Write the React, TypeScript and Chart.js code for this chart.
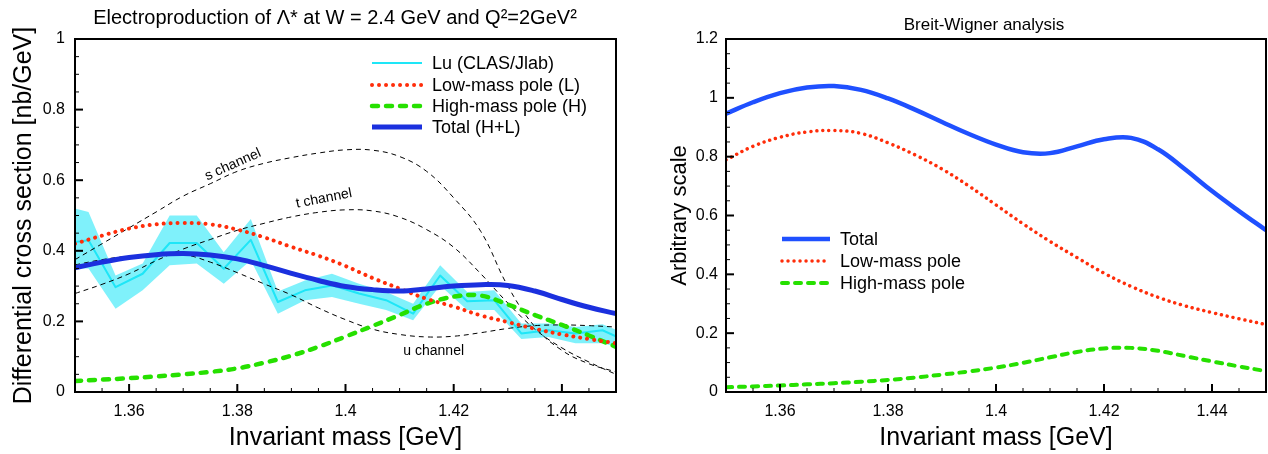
import React, { useEffect, useRef } from 'react';
import { Chart, registerables } from 'chart.js';

Chart.register(...registerables);
Chart.defaults.font.family = '"Liberation Sans", Arial, Helvetica, sans-serif';
Chart.defaults.color = '#000';

// ---------------- data ----------------
const massGrid = [1.35, 1.355, 1.36, 1.365, 1.37, 1.375, 1.38, 1.385, 1.39, 1.395, 1.4, 1.405, 1.41, 1.415, 1.42, 1.425, 1.43, 1.435, 1.44, 1.445, 1.45];

// left panel: electroproduction
const leftLowMass = [0.42, 0.443, 0.463, 0.475, 0.479, 0.475, 0.46, 0.438, 0.411, 0.386, 0.357, 0.323, 0.293, 0.264, 0.242, 0.217, 0.198, 0.179, 0.163, 0.15, 0.138];
const leftHighMass = [0.031, 0.035, 0.039, 0.044, 0.05, 0.057, 0.067, 0.083, 0.103, 0.128, 0.157, 0.187, 0.218, 0.25, 0.27, 0.273, 0.248, 0.218, 0.19, 0.16, 0.128];
const leftTotal = [0.352, 0.368, 0.381, 0.389, 0.392, 0.388, 0.377, 0.358, 0.336, 0.316, 0.299, 0.29, 0.286, 0.292, 0.3, 0.304, 0.302, 0.286, 0.262, 0.24, 0.222];
const sChannel = [0.375, 0.42, 0.465, 0.51, 0.555, 0.59, 0.625, 0.648, 0.664, 0.677, 0.686, 0.685, 0.667, 0.625, 0.55, 0.455, 0.3, 0.185, 0.118, 0.08, 0.057];
const tChannel = [0.279, 0.305, 0.335, 0.372, 0.405, 0.432, 0.458, 0.478, 0.496, 0.509, 0.516, 0.513, 0.495, 0.46, 0.41, 0.335, 0.252, 0.178, 0.125, 0.085, 0.05];
const uChannel = [0.36, 0.375, 0.385, 0.391, 0.39, 0.368, 0.338, 0.306, 0.275, 0.238, 0.205, 0.178, 0.163, 0.156, 0.158, 0.168, 0.18, 0.188, 0.19, 0.188, 0.184];

const luMass = [1.3475, 1.3525, 1.3575, 1.3625, 1.3675, 1.3725, 1.3775, 1.3825, 1.3875, 1.3925, 1.3975, 1.4025, 1.4075, 1.4125, 1.4175, 1.4225, 1.4275, 1.4325, 1.4375, 1.4425, 1.4475, 1.4525];
const luValue = [0.42, 0.43, 0.297, 0.335, 0.422, 0.422, 0.349, 0.431, 0.255, 0.288, 0.302, 0.279, 0.26, 0.222, 0.33, 0.257, 0.26, 0.166, 0.175, 0.166, 0.175, 0.14];
const luLower = [0.35, 0.35, 0.236, 0.288, 0.359, 0.364, 0.307, 0.373, 0.222, 0.26, 0.269, 0.25, 0.232, 0.203, 0.302, 0.232, 0.232, 0.15, 0.156, 0.138, 0.138, 0.12];
const luUpper = [0.53, 0.51, 0.33, 0.364, 0.5, 0.5, 0.396, 0.49, 0.285, 0.316, 0.335, 0.307, 0.283, 0.25, 0.359, 0.283, 0.288, 0.194, 0.194, 0.184, 0.192, 0.16];

// right panel: Breit-Wigner analysis
const rightTotal = [0.946, 0.985, 1.016, 1.035, 1.04, 1.027, 0.998, 0.96, 0.918, 0.877, 0.841, 0.815, 0.812, 0.835, 0.859, 0.864, 0.825, 0.757, 0.683, 0.615, 0.55];
const rightLowMass = [0.789, 0.835, 0.866, 0.884, 0.889, 0.879, 0.847, 0.806, 0.758, 0.7, 0.636, 0.572, 0.512, 0.457, 0.404, 0.359, 0.322, 0.293, 0.27, 0.249, 0.229];
const rightHighMass = [0.016, 0.019, 0.022, 0.026, 0.03, 0.035, 0.041, 0.049, 0.059, 0.07, 0.083, 0.099, 0.118, 0.136, 0.148, 0.15, 0.14, 0.122, 0.104, 0.087, 0.071];

// ticks
const xTickValues = [1.36, 1.38, 1.4, 1.42, 1.44];
const xTickLabels = ['1.36', '1.38', '1.4', '1.42', '1.44'];
const leftYTickValues = [0, 0.2, 0.4, 0.6, 0.8, 1];
const leftYTickLabels = ['0', '0.2', '0.4', '0.6', '0.8', '1'];
const rightYTickValues = [0, 0.2, 0.4, 0.6, 0.8, 1, 1.2];
const rightYTickLabels = ['0', '0.2', '0.4', '0.6', '0.8', '1', '1.2'];

// ---------------- styles ----------------
const CYAN = '#1ee6f7';
const BAND = 'rgba(0, 228, 248, 0.5)';
const RED = '#ff2d0a';
const GREEN = '#26e000';
const BLUE_L = '#1b30de';
const BLUE_R = '#1f50ff';
const FONT = '"Liberation Sans", Arial, sans-serif';

const pts = (xs: number[], ys: number[]) => xs.map((x, i) => ({ x, y: ys[i] }));

type LegendItem = { text: string; color: string; width: number; dash: number[]; cap: CanvasLineCap };

function findLabel(values: number[], labels: string[], v: number) {
  const i = values.findIndex((t) => Math.abs(t - v) < 1e-9);
  return i >= 0 ? labels[i] : '';
}

function makeDecor(opts: {
  yMinorStep: number;
  yMax: number;
  yMajor: number[];
  title: string;
  titleFont: string;
  titleX: number;
  titleY: number;
  legend: LegendItem[];
  legendLineX0: number;
  legendLineX1: number;
  legendTextX: number;
  legendRows: number[];
  legendFont: string;
  notes: { text: string; x: number; y: number; angle: number }[];
}) {
  return {
    id: 'decor',
    afterDatasetsDraw(chart: any) {
      const { ctx, chartArea: a, scales } = chart;
      const xs = scales.x;
      const ys = scales.y;
      ctx.save();
      ctx.strokeStyle = '#000';
      ctx.setLineDash([]);
      // x ticks (inward)
      const nx = Math.round((1.45 - 1.35) / 0.005);
      for (let i = 0; i <= nx; i++) {
        const v = 1.35 + i * 0.005;
        const major = xTickValues.some((t) => Math.abs(t - v) < 1e-6);
        const px = xs.getPixelForValue(v);
        ctx.lineWidth = major ? 2 : 1;
        ctx.beginPath();
        ctx.moveTo(px, a.bottom);
        ctx.lineTo(px, a.bottom - (major ? 8 : 4));
        ctx.stroke();
      }
      // y ticks (inward)
      const ny = Math.round(opts.yMax / opts.yMinorStep);
      for (let i = 0; i <= ny; i++) {
        const v = i * opts.yMinorStep;
        const major = opts.yMajor.some((t) => Math.abs(t - v) < 1e-6);
        const py = ys.getPixelForValue(v);
        ctx.lineWidth = major ? 2 : 1;
        ctx.beginPath();
        ctx.moveTo(a.left, py);
        ctx.lineTo(a.left + (major ? 8 : 4), py);
        ctx.stroke();
      }
      // frame
      ctx.lineWidth = 2;
      ctx.strokeRect(a.left, a.top, a.right - a.left, a.bottom - a.top);

      // channel notes
      ctx.fillStyle = '#000';
      ctx.font = '14px ' + FONT;
      ctx.textAlign = 'center';
      ctx.textBaseline = 'middle';
      for (const n of opts.notes) {
        ctx.save();
        ctx.translate(xs.getPixelForValue(n.x), ys.getPixelForValue(n.y));
        ctx.rotate((n.angle * Math.PI) / 180);
        ctx.fillText(n.text, 0, 0);
        ctx.restore();
      }

      // legend
      ctx.font = opts.legendFont;
      ctx.textAlign = 'left';
      opts.legend.forEach((item, i) => {
        const y = a.top + opts.legendRows[i];
        ctx.save();
        ctx.strokeStyle = item.color;
        ctx.lineWidth = item.width;
        ctx.lineCap = item.cap;
        ctx.setLineDash(item.dash);
        ctx.beginPath();
        ctx.moveTo(a.left + opts.legendLineX0, y);
        ctx.lineTo(a.left + opts.legendLineX1, y);
        ctx.stroke();
        ctx.restore();
        ctx.fillStyle = '#000';
        ctx.fillText(item.text, a.left + opts.legendTextX, y + 1);
      });

      // title
      ctx.font = opts.titleFont;
      ctx.textAlign = 'center';
      ctx.fillText(opts.title, opts.titleX, opts.titleY);
      ctx.restore();
    },
  };
}

function axisX() {
  return {
    type: 'linear',
    min: 1.35,
    max: 1.45,
    grid: { display: false, drawTicks: false },
    border: { display: false },
    afterBuildTicks: (s: any) => {
      s.ticks = xTickValues.map((v) => ({ value: v }));
    },
    ticks: {
      padding: 10,
      autoSkip: false,
      maxRotation: 0,
      font: { size: 16 },
      color: '#000',
      callback: (v: number) => findLabel(xTickValues, xTickLabels, v),
    },
    title: {
      display: true,
      text: 'Invariant mass [GeV]',
      font: { size: 25 },
      color: '#000',
      padding: { top: 0, bottom: 1 },
    },
    afterFit: (s: any) => {
      s.height = 62;
    },
  };
}

function lineDs(label: string, xs: number[], ys: number[], color: string, width: number, dash: number[], cap: CanvasLineCap, order: number, smooth = true) {
  return {
    label,
    data: pts(xs, ys),
    borderColor: color,
    backgroundColor: color,
    borderWidth: width,
    borderDash: dash,
    borderCapStyle: cap,
    borderJoinStyle: 'round',
    pointRadius: 0,
    fill: false,
    cubicInterpolationMode: 'default',
    tension: smooth ? 0.4 : 0,
    order,
  };
}

function LeftChart() {
  const ref = useRef<HTMLCanvasElement>(null);
  useEffect(() => {
    const legend: LegendItem[] = [
      { text: 'Lu (CLAS/Jlab)', color: CYAN, width: 2, dash: [], cap: 'butt' },
      { text: 'Low-mass pole (L)', color: RED, width: 4, dash: [0.01, 7], cap: 'round' },
      { text: 'High-mass pole (H)', color: GREEN, width: 4.5, dash: [6, 8], cap: 'round' },
      { text: 'Total (H+L)', color: BLUE_L, width: 5, dash: [], cap: 'butt' },
    ];
    const chart = new Chart(ref.current as HTMLCanvasElement, {
      type: 'line',
      data: {
        datasets: [
          {
            label: 'Lu band upper',
            data: pts(luMass, luUpper),
            borderColor: 'transparent',
            borderWidth: 0,
            backgroundColor: BAND,
            pointRadius: 0,
            fill: '+1',
            tension: 0,
            order: 20,
          },
          {
            label: 'Lu band lower',
            data: pts(luMass, luLower),
            borderColor: 'transparent',
            borderWidth: 0,
            pointRadius: 0,
            fill: false,
            tension: 0,
            order: 21,
          },
          lineDs('Lu (CLAS/Jlab)', luMass, luValue, CYAN, 2, [], 'butt', 15, false),
          lineDs('s channel', massGrid, sChannel, '#000', 1, [5, 4], 'butt', 12),
          lineDs('t channel', massGrid, tChannel, '#000', 1, [5, 4], 'butt', 11),
          lineDs('u channel', massGrid, uChannel, '#000', 1, [5, 4], 'butt', 10),
          lineDs('High-mass pole (H)', massGrid, leftHighMass, GREEN, 4.5, [6, 8], 'round', 3),
          lineDs('Low-mass pole (L)', massGrid, leftLowMass, RED, 4, [0.01, 7], 'round', 2),
          lineDs('Total (H+L)', massGrid, leftTotal, BLUE_L, 5, [], 'butt', 1),
        ] as any,
      },
      options: {
        responsive: false,
        animation: false,
        events: [],
        layout: { padding: { left: 0, right: 18, top: 39, bottom: 0 } },
        plugins: { legend: { display: false }, tooltip: { enabled: false } },
        scales: {
          x: axisX() as any,
          y: {
            type: 'linear',
            min: 0,
            max: 1,
            grid: { display: false, drawTicks: false },
            border: { display: false },
            afterBuildTicks: (s: any) => {
              s.ticks = leftYTickValues.map((v) => ({ value: v }));
            },
            ticks: {
              padding: 10,
              font: { size: 16 },
              color: '#000',
              callback: (v: number) => findLabel(leftYTickValues, leftYTickLabels, v),
            },
            title: {
              display: true,
              text: 'Differential cross section [nb/GeV]',
              font: { size: 25 },
              color: '#000',
              padding: { top: 9, bottom: 0 },
            },
            afterFit: (s: any) => {
              s.width = 75;
            },
          } as any,
        },
      },
      plugins: [
        makeDecor({
          yMinorStep: 0.05,
          yMax: 1,
          yMajor: leftYTickValues,
          title: 'Electroproduction of Λ* at W = 2.4 GeV and Q²=2GeV²',
          titleFont: '20px ' + FONT,
          titleX: 335,
          titleY: 18,
          legend,
          legendLineX0: 297,
          legendLineX1: 347,
          legendTextX: 357,
          legendRows: [24, 46, 67, 88],
          legendFont: '18px ' + FONT,
          notes: [
            { text: 's channel', x: 1.3792, y: 0.644, angle: -24 },
            { text: 't channel', x: 1.396, y: 0.548, angle: -11 },
            { text: 'u channel', x: 1.4163, y: 0.116, angle: 0 },
          ],
        }),
      ],
    } as any);
    return () => chart.destroy();
  }, []);
  return <canvas ref={ref} width={634} height={454} style={{ position: 'absolute', left: 0, top: 0 }} />;
}

function RightChart() {
  const ref = useRef<HTMLCanvasElement>(null);
  useEffect(() => {
    const legend: LegendItem[] = [
      { text: 'Total', color: BLUE_R, width: 4.5, dash: [], cap: 'butt' },
      { text: 'Low-mass pole', color: RED, width: 3.5, dash: [0.01, 6], cap: 'round' },
      { text: 'High-mass pole', color: GREEN, width: 4, dash: [6, 7], cap: 'round' },
    ];
    const chart = new Chart(ref.current as HTMLCanvasElement, {
      type: 'line',
      data: {
        datasets: [
          lineDs('High-mass pole', massGrid, rightHighMass, GREEN, 4, [6, 7], 'round', 3),
          lineDs('Low-mass pole', massGrid, rightLowMass, RED, 3.5, [0.01, 6], 'round', 2),
          lineDs('Total', massGrid, rightTotal, BLUE_R, 4.5, [], 'butt', 1),
        ] as any,
      },
      options: {
        responsive: false,
        animation: false,
        events: [],
        layout: { padding: { left: 0, right: 2, top: 39, bottom: 0 } },
        plugins: { legend: { display: false }, tooltip: { enabled: false } },
        scales: {
          x: axisX() as any,
          y: {
            type: 'linear',
            min: 0,
            max: 1.2,
            grid: { display: false, drawTicks: false },
            border: { display: false },
            afterBuildTicks: (s: any) => {
              s.ticks = rightYTickValues.map((v) => ({ value: v }));
            },
            ticks: {
              padding: 8,
              font: { size: 16 },
              color: '#000',
              callback: (v: number) => findLabel(rightYTickValues, rightYTickLabels, v),
            },
            title: {
              display: true,
              text: 'Arbitrary scale',
              font: { size: 22 },
              color: '#000',
              padding: { top: 33, bottom: 0 },
            },
            afterFit: (s: any) => {
              s.width = 92;
            },
          } as any,
        },
      },
      plugins: [
        makeDecor({
          yMinorStep: 0.05,
          yMax: 1.2,
          yMajor: rightYTickValues,
          title: 'Breit-Wigner analysis',
          titleFont: '17px ' + FONT,
          titleX: 350,
          titleY: 25,
          legend,
          legendLineX0: 56,
          legendLineX1: 104,
          legendTextX: 114,
          legendRows: [200, 222, 244],
          legendFont: '18px ' + FONT,
          notes: [],
        }),
      ],
    } as any);
    return () => chart.destroy();
  }, []);
  return <canvas ref={ref} width={634} height={454} style={{ position: 'absolute', left: 634, top: 0 }} />;
}

export default function App() {
  return (
    <div style={{ position: 'fixed', left: 0, top: 0, width: 1268, height: 454, background: '#fff', overflow: 'hidden' }}>
      <LeftChart />
      <RightChart />
    </div>
  );
}
